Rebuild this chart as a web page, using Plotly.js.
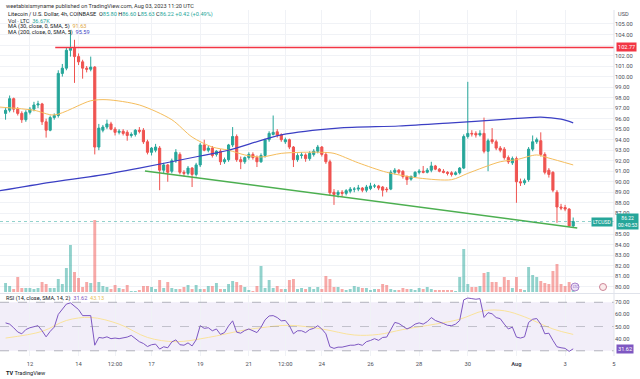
<!DOCTYPE html>
<html>
<head>
<meta charset="utf-8">
<script src="https://cdn.plot.ly/plotly-3.0.1.min.js"></script>
<style>html,body{margin:0;padding:0;background:#fff;}#chart{width:640px;height:379px;}</style>
</head>
<body>
<div id="chart"></div>
<script>
// ---------- DATA ----------
const barStart = '2023-07-11 00:00'; // first 4h candle (UTC)
const open  = [96.5,96.8,97.9,96.9,96.5,95.9,96.6,96.9,97.3,97.4,95.7,94.9,96.1,96.3,100.3,100.8,102.5,102.7,101.9,101.4,100.8,100.7,100.9,93.3,94.9,95.2,95.5,95.0,94.7,94.8,94.7,94.4,94.5,94.9,94.9,93.8,92.8,93.0,93.2,91.1,91.6,91.0,92.0,92.6,90.9,90.8,91.3,90.7,91.6,93.5,93.0,93.2,92.6,92.9,91.9,92.1,93.5,94.3,92.1,91.9,92.3,92.6,92.3,91.9,92.5,94.0,94.5,94.75,94.45,93.8,94.0,93.3,92.1,92.5,92.55,92.2,92.6,92.9,93.3,92.6,91.9,89.0,88.8,89.0,88.9,89.1,89.3,89.3,89.4,89.2,89.35,89.6,89.6,89.5,89.3,89.3,90.9,91.1,91.0,90.5,90.25,90.5,90.9,91.0,90.9,91.1,91.5,91.2,91.0,90.9,90.85,90.7,90.85,91.3,94.3,94.6,94.6,94.45,94.6,92.9,94.0,93.8,93.2,93.1,92.3,91.8,92.2,90.0,89.9,90.2,93.1,93.8,93.9,92.6,91.1,90.9,89.0,87.6,87.55,87.4,85.8];
const high  = [97.0,98.2,98.0,97.1,96.7,96.8,97.1,97.6,97.7,97.5,96.0,96.3,96.5,100.6,101.2,102.8,104.4,103.5,102.2,101.6,101.0,101.9,101.0,95.5,95.4,95.9,95.7,95.2,95.0,95.0,94.9,94.7,95.0,95.2,95.1,94.0,93.3,93.6,93.4,91.8,91.7,92.2,93.1,92.8,91.1,91.5,91.4,91.8,93.7,94.0,93.4,93.4,93.0,93.1,92.3,93.6,95.2,94.5,92.4,92.4,92.8,92.8,92.5,92.7,94.1,94.8,96.3,95.0,94.6,94.2,94.1,93.4,92.7,92.8,92.7,92.9,93.1,93.5,93.4,92.8,92.1,89.3,89.2,89.2,89.3,89.5,89.5,89.7,89.5,89.7,89.9,89.8,89.7,89.6,89.5,91.1,91.3,91.2,91.1,90.6,90.6,91.0,91.2,91.5,91.3,91.9,91.6,91.3,91.2,91.0,91.0,91.0,91.4,94.5,99.5,94.9,94.8,94.9,96.1,94.1,95.1,94.0,93.4,93.3,92.5,92.4,92.4,90.3,90.3,93.3,94.4,94.2,94.7,92.8,91.3,91.0,89.2,87.9,87.8,87.5,86.6];
const low   = [95.9,96.6,96.6,96.3,95.6,95.7,96.4,96.7,97.0,95.4,94.2,94.8,95.9,96.1,100.0,100.6,101.9,99.4,101.1,99.8,100.4,100.5,92.6,93.0,94.7,95.0,94.9,94.4,94.5,94.4,93.9,94.2,94.3,94.6,93.6,92.6,92.5,92.8,89.2,90.8,90.0,90.8,91.8,90.7,90.5,90.6,89.5,90.5,91.4,92.9,92.8,92.3,92.4,91.6,91.7,91.9,93.3,91.9,91.2,91.7,92.1,92.1,91.4,91.8,92.3,93.8,94.4,94.2,93.8,93.6,93.1,91.4,91.9,92.2,91.9,92.0,92.4,92.7,92.4,91.7,88.7,87.8,88.5,88.6,88.7,88.9,89.0,89.1,89.0,89.0,89.2,89.4,89.2,88.6,89.0,89.2,90.7,90.7,90.3,89.7,90.1,90.4,90.7,90.8,90.8,90.9,91.1,90.9,90.8,90.6,90.5,90.6,90.7,91.2,94.1,94.3,94.2,94.3,92.7,91.0,93.6,93.0,92.8,92.1,91.7,91.6,88.0,89.6,89.7,90.0,92.9,93.6,92.4,90.7,90.4,89.0,86.1,87.3,87.2,85.7,85.63];
const close = [96.8,97.9,96.9,96.5,95.9,96.6,96.9,97.3,97.4,95.7,94.9,96.1,96.3,100.3,100.8,102.5,102.7,101.9,101.4,100.8,100.7,100.9,93.3,95.1,95.2,95.5,95.0,94.7,94.8,94.6,94.4,94.5,94.9,94.8,93.8,92.8,93.2,93.3,91.1,91.6,90.9,92.0,92.8,90.9,90.8,91.3,90.7,91.6,93.5,93.0,93.2,92.5,92.9,91.9,92.1,93.5,94.3,92.1,91.9,92.3,92.6,92.3,91.9,92.5,94.0,94.6,94.7,94.45,94.0,94.0,93.3,92.1,92.5,92.55,92.2,92.7,92.9,93.3,92.6,91.9,88.95,88.8,89.0,88.9,89.15,89.3,89.3,89.4,89.2,89.5,89.6,89.6,89.4,89.2,89.25,90.9,91.1,90.9,90.5,90.2,90.5,90.9,91.0,90.9,91.1,91.5,91.2,91.0,90.9,90.8,90.7,90.85,91.3,94.3,94.6,94.55,94.45,94.6,92.9,93.9,93.8,93.2,93.0,92.3,91.9,92.2,90.0,89.9,90.1,93.1,93.8,94.0,92.6,90.9,90.7,89.2,87.6,87.5,87.4,85.8,86.22];
const volume = [9,6,3,15,4,4,4,3,4,10,8,4,4,13,8,24,47,20,14,5,10,9,72,10,6,5,3,7,4,3,7,1,1,2,6,6,5,3,12,4,10,4,3,3,5,7,3,7,3,3,6,6,9,3,3,8,11,10,7,5,2,1,6,26,4,12,4,6,3,3,12,13,3,4,3,5,3,5,3,16,13,5,5,3,2,3,6,5,4,4,2,3,3,8,7,3,2,2,4,3,3,2,4,3,5,3,2,2,2,2,2,1,15,43,8,5,5,6,19,20,10,10,5,15,12,4,15,3,2,25,17,15,11,9,8,21,28,8,6,10,4];
const rsi = [53,52,49,45.5,44,47.5,49,50,50.7,46.5,41.5,46,49.5,60,64,68.5,69.5,67,64,59,59,59,34.6,41,40.5,41.5,40,40.5,40,40.5,41.3,42.7,40,37.5,36,33.5,35,35.5,31.4,33.3,32.5,37.3,39,35,34.6,36.5,34,39,50.7,48.5,49,46.5,48,43.5,45,50.5,54.7,45.3,44.5,46.7,48,46.5,45,49.4,55.5,58.7,59,57.4,54.7,55,50.7,44,46.5,46.5,45,47.5,48.5,50.7,48,44,33.3,32,33,33,34,34.6,34.6,35.5,34.5,37.5,38.5,40,38.6,41,41.3,48,53.4,52.5,50,48,49.5,52,53,52,54,57.4,55,54,52.5,51,50.7,52,55,72,73.5,73,72.5,73,57.5,61.4,60.5,57.4,56.5,52,48,49.5,41.3,40.5,41.5,53.4,56,56.6,52,44,44.5,38.6,33.3,32.5,32,29.5,31.6];
// moving averages read at sample bars (bar index, value)
const ma30Bar  = [-1.4,7,12,21,25,33,41,46,51,55,59,63,68,73,78,81,87,94,102,110,114,122,126,131,134,140];
const ma30Val  = [97.1,96.8,96.35,97.7,97.8,97.3,95.9,94.25,93.3,93.0,92.55,92.35,92.7,92.8,92.8,92.7,91.8,90.9,90.35,90.2,90.8,91.9,92.1,92.55,92.25,91.6];
const ma200Bar = [-1.4,11,23,33,48,55,68,82,97,110,122,132,137,140];
const ma200Val = [89.15,89.95,90.6,91.3,92.45,93.0,94.45,95.1,95.3,95.6,95.9,96.15,95.95,95.6];
const rsiMaBar = [0,9,15,21,28,35,42,50,58,63,70,78,86,92,98,106,112,118,123,128,135,140];
const rsiMaVal = [40.5,46,55,57.5,52,41,37.5,41,46.5,49,51,48,43,43.5,47.5,52,56,63,63,58,48,43.5];
// drawings
const resistanceLevel = 102.77;
const resistanceFrom = '2023-07-13 01:00';
const trendDates  = ['2023-07-16 17:30','2023-08-03 12:00'];
const trendPrices = [91.03,85.61];
// axis ticks
const timeTicks = ['2023-07-12','2023-07-14','2023-07-15 12:00','2023-07-17','2023-07-19','2023-07-21','2023-07-22 12:00','2023-07-24','2023-07-26','2023-07-28','2023-07-30','2023-08-01','2023-08-03','2023-08-05'];
const timeLabels = ['12','14','12:00','17','19','21','12:00','24','26','28','30','<b>Aug</b>','3','5'];
const priceTicks = [80,81,82,83,84,85,86,87,88,89,90,91,92,93,94,95,96,97,98,99,100,101,102,103,104,105];
const priceHidden = [86,103]; // labels covered by the price boxes
const rsiTicks = [40,50,60,70];
const lastClose = 86.22;
const lastRsi = 31.62;

// ---------- helpers ----------
const t0 = Date.parse(barStart.replace(' ','T')+':00Z');
function barTime(i){ return new Date(t0 + i*4*3600*1000).toISOString().slice(0,16).replace('T',' '); }
const dates = close.map((_,i)=>barTime(i));
const UP='#26a69a', DN='#ef5350';
const xRange = ['2023-07-10 18:30','2023-08-05 00:15'];
const H=379, T=10, B=23, L=0, R=26, PW=640-L-R, PH=H-T-B;
function px(x,y){ return {x:(x-L)/PW, y:(H-B-y)/PH}; }
function ann(x,y,text,opt){ const p=px(x,y); return Object.assign({xref:'paper',yref:'paper',x:p.x,y:p.y,text:text,showarrow:false,xanchor:'left',yanchor:'middle',font:{size:5.6,color:'#131722'}},opt||{}); }
function circ(cx,cy,r,fill,line){ const a=px(cx-r,cy+r), b=px(cx+r,cy-r); return {type:'circle',xref:'paper',yref:'paper',x0:a.x,y0:a.y,x1:b.x,y1:b.y,fillcolor:fill,line:{color:line,width:1}}; }

const volColors = close.map((c,i)=> c>=open[i] ? 'rgba(38,166,154,0.5)' : 'rgba(239,83,80,0.5)');

const traces = [
 {type:'bar', x:dates, y:volume, xaxis:'x', yaxis:'y', marker:{color:volColors,line:{width:0}}, width:4*3600*1000*0.72, hoverinfo:'skip'},
 {type:'candlestick', x:dates, open:open, high:high, low:low, close:close, xaxis:'x', yaxis:'y2',
  increasing:{line:{color:UP,width:1},fillcolor:UP}, decreasing:{line:{color:DN,width:1},fillcolor:DN}, whiskerwidth:0, hoverinfo:'skip'},
 {type:'scatter', mode:'lines', x:ma30Bar.map(barTime), y:ma30Val, xaxis:'x', yaxis:'y2', line:{color:'#f5bd5c',width:1,shape:'spline',smoothing:0.8}, hoverinfo:'skip'},
 {type:'scatter', mode:'lines', x:ma200Bar.map(barTime), y:ma200Val, xaxis:'x', yaxis:'y2', line:{color:'#3b3fc4',width:1.2,shape:'spline',smoothing:0.8}, hoverinfo:'skip'},
 {type:'scatter', mode:'lines', x:[resistanceFrom, xRange[1]], y:[resistanceLevel,resistanceLevel], xaxis:'x', yaxis:'y2', line:{color:'#f23645',width:1.5}, hoverinfo:'skip'},
 {type:'scatter', mode:'lines', x:trendDates, y:trendPrices, xaxis:'x', yaxis:'y2', line:{color:'#4caf50',width:1.5}, hoverinfo:'skip'},
 {type:'scatter', mode:'lines', x:rsiMaBar.map(barTime), y:rsiMaVal, xaxis:'x2', yaxis:'y3', line:{color:'rgba(250,226,150,0.95)',width:1,shape:'spline',smoothing:1}, hoverinfo:'skip'},
 {type:'scatter', mode:'lines', x:dates, y:rsi, xaxis:'x2', yaxis:'y3', line:{color:'#7e57c2',width:1}, hoverinfo:'skip'}
];

const grid='#f0f2f6';
const tickFont={size:5.8,color:'#4a4d57',family:'Roboto, Liberation Sans, sans-serif'};
const layout = {
 width:640, height:379, margin:{l:L,r:R,t:T,b:B,pad:0},
 paper_bgcolor:'#fff', plot_bgcolor:'#fff', showlegend:false,
 font:{family:'Roboto, Liberation Sans, sans-serif', size:6, color:'#131722'},
 boxgap:0.25,
 xaxis:{type:'date', range:xRange, domain:[0,1], anchor:'y', tickvals:timeTicks, ticktext:timeLabels, showticklabels:false,
        showgrid:true, gridcolor:grid, zeroline:false, rangeslider:{visible:false}, fixedrange:true},
 xaxis2:{type:'date', range:xRange, domain:[0,1], anchor:'y3', matches:'x', tickvals:timeTicks, ticktext:timeLabels,
        tickfont:tickFont, ticks:'', ticklabelstandoff:3, showgrid:true, gridcolor:grid, zeroline:false, fixedrange:true},
 yaxis:{domain:[0.185,1], range:[0,282], visible:false, fixedrange:true},
 yaxis2:{overlaying:'y', anchor:'x', side:'right', range:[79.52,106.33], tickvals:priceTicks,
        ticktext:priceTicks.map(v=> priceHidden.includes(v) ? '' : v.toFixed(2)),
        tickfont:tickFont, ticks:'', showgrid:true, gridcolor:grid, zeroline:false, fixedrange:true},
 yaxis3:{domain:[0,0.1763], anchor:'x2', side:'right', range:[25.7,76], tickvals:rsiTicks, ticktext:rsiTicks.map(v=>v.toFixed(2)),
        tickfont:tickFont, ticks:'', showgrid:false, zeroline:false, fixedrange:true},
 shapes:[
  {type:'rect', xref:'paper', yref:'y3', x0:0, x1:1, y0:30, y1:70, fillcolor:'rgba(126,87,194,0.1)', line:{width:0}, layer:'below'},
  {type:'line', xref:'paper', yref:'y3', x0:0, x1:1, y0:70, y1:70, line:{color:'rgba(120,123,134,0.55)',width:1,dash:'dash'}},
  {type:'line', xref:'paper', yref:'y3', x0:0, x1:1, y0:50, y1:50, line:{color:'rgba(120,123,134,0.4)',width:1,dash:'dash'}},
  {type:'line', xref:'paper', yref:'y3', x0:0, x1:1, y0:30, y1:30, line:{color:'rgba(120,123,134,0.55)',width:1,dash:'dash'}},
  {type:'line', xref:'paper', yref:'y2', x0:0, x1:1, y0:lastClose, y1:lastClose, line:{color:'rgba(38,166,154,0.5)',width:1,dash:'dot'}},
  {type:'line', xref:'paper', yref:'paper', x0:0, x1:640/PW, y0:px(0,293.5).y, y1:px(0,293.5).y, line:{color:'#e0e3eb',width:1}},
  {type:'line', xref:'paper', yref:'paper', x0:1, x1:1, y0:0, y1:px(0,10).y, line:{color:'#e0e3eb',width:1}},
  circ(575,287,4,'rgba(235,225,245,1)','rgba(160,120,200,0.9)'),
  circ(603,287,3.5,'rgba(250,235,235,1)','rgba(200,120,140,0.9)')
 ],
 annotations:[
  ann(4,6,'weetabixismyname published on TradingView.com, Aug 03, 2023 11:20 UTC',{font:{size:5.6,color:'#333'}}),
  ann(6,14.7,'Litecoin / U.S. Dollar, 4h, COINBASE  O<span style="color:#26a69a">85.80</span> H<span style="color:#26a69a">86.60</span> L<span style="color:#26a69a">85.63</span> C<span style="color:#26a69a">86.22</span> <span style="color:#26a69a">+0.42 (+0.49%)</span>'),
  ann(6,20.7,'Vol · LTC  <span style="color:#26a69a">36.67K</span>'),
  ann(6,26.7,'MA (30, close, 0, SMA, 5)  <span style="color:#e0a640">91.63</span>'),
  ann(6,32.7,'MA (200, close, 0, SMA, 5)  <span style="color:#3b3fc4">95.59</span>'),
  ann(4,298.5,'RSI (14, close, SMA, 14, 2)  <span style="color:#7e57c2">31.62</span>  <span style="color:#e8c25a">43.13</span>'),
  ann(616,14,'USD',{font:{size:5.6,color:'#4a4d57'}}),
  ann(570.5,287,'LTC',{font:{size:3.2,color:'#7e57c2'}}),
  {xref:'paper',yref:'y2',x:1.003,y:resistanceLevel,text:'102.77',showarrow:false,xanchor:'left',yanchor:'middle',bgcolor:'#f23645',font:{size:5.6,color:'#fff'},borderpad:1},
  {xref:'paper',yref:'y2',x:1.003,y:lastClose,text:'86.22<br>00:40:53',showarrow:false,xanchor:'left',yanchor:'middle',bgcolor:'#26a69a',font:{size:5,color:'#fff'},borderpad:1},
  {xref:'paper',yref:'y2',x:0.998,y:lastClose,text:'LTCUSD',showarrow:false,xanchor:'right',yanchor:'middle',bgcolor:'#26a69a',font:{size:5,color:'#fff'},borderpad:1},
  {xref:'paper',yref:'y3',x:1.003,y:lastRsi,text:'31.62',showarrow:false,xanchor:'left',yanchor:'middle',bgcolor:'#7e57c2',font:{size:5.6,color:'#fff'},borderpad:1},
  ann(4,373,'<b>TV</b> TradingView',{font:{size:5.6,color:'#131722'}})
 ]
};
Plotly.newPlot('chart', traces, layout, {staticPlot:true, displayModeBar:false});
</script>
</body>
</html>
